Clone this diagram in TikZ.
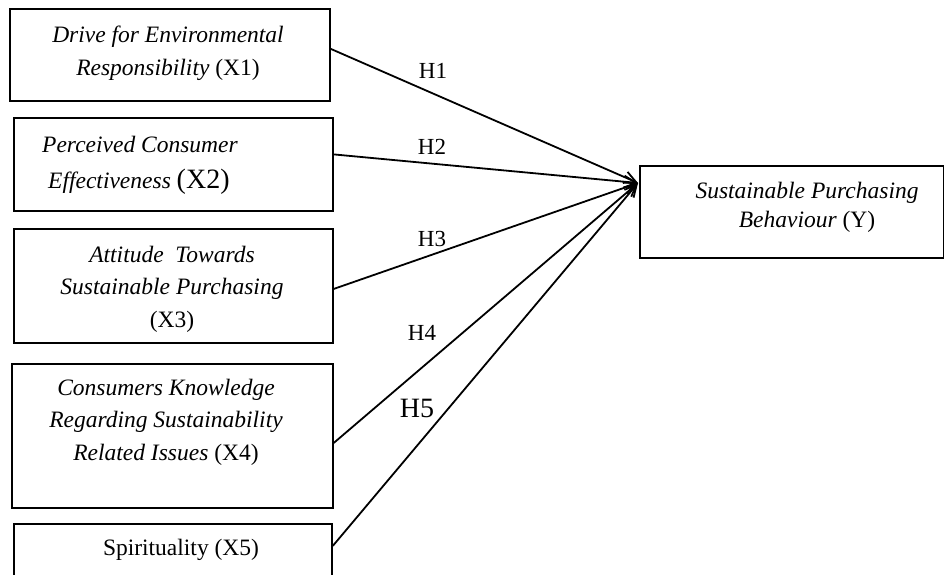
\documentclass[tikz,border=0pt]{standalone}
\usepackage{fontspec}
\setmainfont{Liberation Serif}
\usetikzlibrary{arrows.meta}
\begin{document}
\begin{tikzpicture}[x=1pt,y=-1pt,
  box/.style={draw, line width=1.8pt, inner sep=0pt, anchor=north west},
  txt/.style={anchor=base, inner sep=0pt, font=\fontsize{23.5}{28}\selectfont},
  hlab/.style={anchor=center, inner sep=0pt, font=\fontsize{23}{28}\selectfont},
  link/.style={line width=1.8pt, -{Straight Barb[length=12pt, width=12pt, line width=1.8pt]}}]
\useasboundingbox (0,0) rectangle (944,574);
\clip (0,0) rectangle (944,574);
% boxes
\node[box, minimum width=320pt, minimum height=92pt] (b1) at (9,8) {};
\node[box, minimum width=319pt, minimum height=93pt] (b2) at (13,117) {};
\node[box, minimum width=319pt, minimum height=114pt] (b3) at (13,228) {};
\node[box, minimum width=321pt, minimum height=144pt] (b4) at (11,363) {};
\node[box, minimum width=318pt, minimum height=80pt] (b5) at (13,523) {};
\node[box, minimum width=304pt, minimum height=92pt] (y) at (639,165) {};
% texts
\node[txt] (t1a) at (168,42) {\itshape Drive for Environmental};
\node[txt] (t1b) at (168,75) {\itshape Responsibility\upshape\ (X1)};
\node[txt, anchor=base west] (t2a) at (42,152) {\itshape Perceived Consumer};
\node[txt, anchor=base west] (t2b) at (48,188) {\itshape Effectiveness\upshape\ \fontsize{28}{32}\selectfont(X2)};
\node[txt] (t3a) at (172,262) {\itshape Attitude\ \ Towards};
\node[txt] (t3b) at (172,294) {\itshape Sustainable Purchasing};
\node[txt] (t3c) at (172,327) {(X3)};
\node[txt] (t4a) at (166,395) {\itshape Consumers Knowledge};
\node[txt] (t4b) at (166,427) {\itshape Regarding Sustainability};
\node[txt] (t4c) at (166,460) {\itshape Related Issues\upshape\ (X4)};
\node[txt] (t5) at (181,555) {Spirituality (X5)};
\node[txt] (ya) at (807,198) {\itshape Sustainable Purchasing};
\node[txt] (yb) at (807,227) {\itshape Behaviour\upshape\ (Y)};
% arrows
\coordinate (tip) at (638,183);
\draw[link] ([yshift=6pt]b1.east) -- (tip);
\draw[link] ([yshift=10pt]b2.east) -- (tip);
\draw[link] ([yshift=-3pt]b3.east) -- (tip);
\draw[link] ([yshift=-7pt]b4.east) -- (tip);
\draw[link] ([yshift=18pt]b5.east) -- (tip);
% labels
\node[hlab] (h1) at (433,71) {H1};
\node[hlab] (h2) at (432,147) {H2};
\node[hlab] (h3) at (432,239) {H3};
\node[hlab] (h4) at (422,333) {H4};
\node[hlab, font=\fontsize{28}{32}\selectfont] (h5) at (417,408) {H5};
\end{tikzpicture}
\end{document}
